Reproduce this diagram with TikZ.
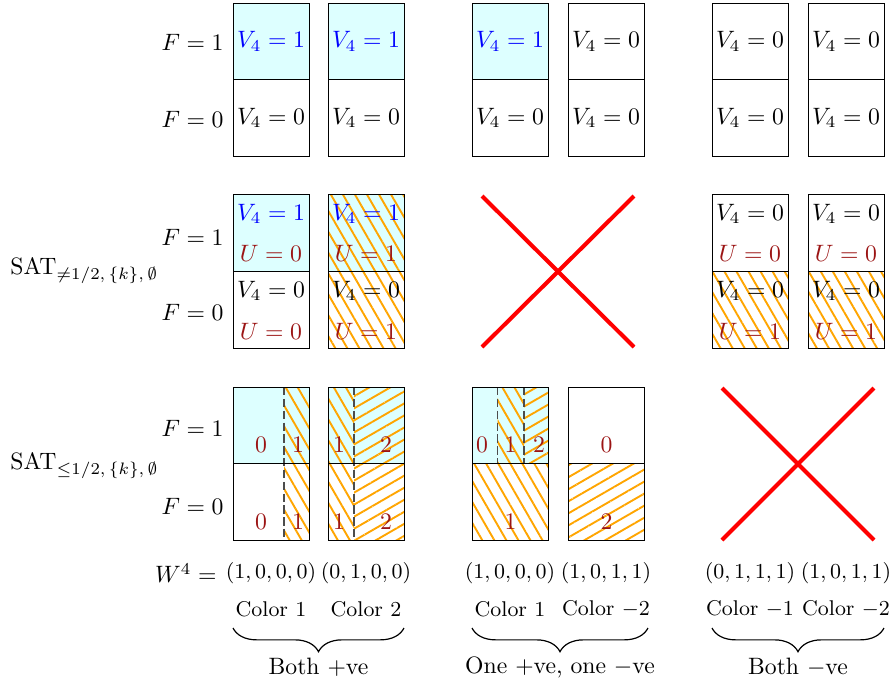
\documentclass[tikz,border=0pt]{standalone}
\usetikzlibrary{patterns.meta,decorations.pathreplacing}
\definecolor{lightcyan}{RGB}{221,255,255}
\definecolor{hatchorange}{RGB}{255,165,0}
\definecolor{darkred}{RGB}{155,20,20}
\begin{document}
\begin{tikzpicture}[x=0.422pt,y=-0.422pt,
 cell/.style={draw=black,line width=0.4pt},
 cyanbg/.style={fill=lightcyan},
 hatchsteep/.style={pattern={Lines[angle=-60,distance=4.4pt,line width=0.8pt]},pattern color=hatchorange},
 hatchflat/.style={pattern={Lines[angle=30,distance=4.4pt,line width=0.8pt]},pattern color=hatchorange},
 txt/.style={inner sep=0pt},
 smalltxt/.style={inner sep=0pt,font=\small},
 vtrue/.style={txt,text=blue},
 utxt/.style={txt,text=darkred},
 divider/.style={draw=black!70,line width=0.5pt,dash pattern=on 3.5pt off 1.5pt},
 cross/.style={draw=red,line width=1.7pt},
 bracestyle/.style={draw=black,line width=0.5pt,decorate,decoration={brace,mirror,amplitude=10pt}}]
\useasboundingbox (0,0) rectangle (893,685);

% ================= Row 1 =================
\foreach \x in {233,328,472} \fill[cyanbg] (\x,3) rectangle +(76,76.5);
\foreach \x in {233,328,472,568,712,808} {
  \draw[cell] (\x,3) rectangle +(76,153);
  \draw[cell] (\x,79.5) -- +(76,0);
}
\node[txt,anchor=east] (r1f1) at (224,42) {$F=1$};
\node[txt,anchor=east] (r1f0) at (224,119) {$F=0$};
\foreach \c [count=\i] in {271,366,510} \node[vtrue] (r1t\i) at (\c,41.5) {$V_4=1$};
\foreach \c [count=\i] in {606,750,846} \node[txt] (r1u\i) at (\c,41.5) {$V_4=0$};
\foreach \c [count=\i] in {271,366,510,606,750,846} \node[txt] (r1b\i) at (\c,118) {$V_4=0$};

% ================= Row 2 =================
\fill[cyanbg] (233,194) rectangle +(76,77);
\fill[cyanbg] (328,194) rectangle +(76,77);
\fill[hatchsteep] (328,194) rectangle +(76,154);
\foreach \x in {712,808} \fill[hatchsteep] (\x,271) rectangle +(76,77);
\foreach \x in {233,328,712,808} {
  \draw[cell] (\x,194) rectangle +(76,154);
  \draw[cell] (\x,271) -- +(76,0);
}
\node[anchor=west,inner sep=0pt] (sat1) at (10,271) {$\mathrm{SAT}_{\neq 1/2,\,\{k\},\,\emptyset}$};
\node[txt,anchor=east] (r2f1) at (224,237) {$F=1$};
\node[txt,anchor=east] (r2f0) at (224,312) {$F=0$};
% column 1
\node[vtrue] (r2a1) at (271,214) {$V_4=1$};
\node[utxt] (r2a2) at (271,253) {$U=0$};
\node[txt] (r2a3) at (271,291) {$V_4=0$};
\node[utxt] (r2a4) at (271,331) {$U=0$};
% column 2
\node[vtrue] (r2b1) at (366,214) {$V_4=1$};
\node[utxt] (r2b2) at (366,253) {$U=1$};
\node[txt] (r2b3) at (366,291) {$V_4=0$};
\node[utxt] (r2b4) at (366,331) {$U=1$};
% columns 5 and 6
\foreach \c [count=\i] in {750,846} {
  \node[txt] (r2c\i a) at (\c,214) {$V_4=0$};
  \node[utxt] (r2c\i b) at (\c,253) {$U=0$};
  \node[txt] (r2c\i c) at (\c,291) {$V_4=0$};
  \node[utxt] (r2c\i d) at (\c,331) {$U=1$};
}
% cross
\coordinate (x1a) at (482,196); \coordinate (x1b) at (634,347);
\coordinate (x1c) at (482,347); \coordinate (x1d) at (634,196);
\draw[cross] (x1a) -- (x1b);
\draw[cross] (x1c) -- (x1d);

% ================= Row 3 =================
\fill[cyanbg] (233,387) rectangle +(76,76);
\fill[cyanbg] (328,387) rectangle +(76,76);
\fill[cyanbg] (472,387) rectangle +(76,76);
\fill[hatchsteep] (284,387) rectangle (309,540);
\fill[hatchsteep] (328,387) rectangle (354,540);
\fill[hatchflat] (354,387) rectangle (404,540);
\fill[hatchsteep] (497.5,387) rectangle (524,463);
\fill[hatchflat] (524,387) rectangle (548,463);
\fill[hatchsteep] (472,463) rectangle (548,540);
\fill[hatchflat] (568,463) rectangle (644,540);
\draw[divider] (284,387) -- (284,540);
\draw[divider] (354,387) -- (354,540);
\draw[divider] (497.5,387) -- (497.5,463);
\draw[divider] (524,387) -- (524,463);
\foreach \x in {233,328,472,568} {
  \draw[cell] (\x,387) rectangle +(76,153);
  \draw[cell] (\x,463) -- +(76,0);
}
\node[anchor=west,inner sep=0pt] (sat2) at (10,466) {$\mathrm{SAT}_{\leq 1/2,\,\{k\},\,\emptyset}$};
\node[txt,anchor=east] (r3f1) at (224,428) {$F=1$};
\node[txt,anchor=east] (r3f0) at (224,506) {$F=0$};
\node[utxt] (r3a1) at (261,445) {$0$};
\node[utxt] (r3a2) at (298,445) {$1$};
\node[utxt] (r3a3) at (261,522) {$0$};
\node[utxt] (r3a4) at (298,522) {$1$};
\node[utxt] (r3b1) at (339,445) {$1$};
\node[utxt] (r3b2) at (386,445) {$2$};
\node[utxt] (r3b3) at (339,522) {$1$};
\node[utxt] (r3b4) at (386,522) {$2$};
\node[utxt] (r3c1) at (482,445) {$0$};
\node[utxt] (r3c2) at (510.5,445) {$1$};
\node[utxt] (r3c3) at (539,445) {$2$};
\node[utxt] (r3c4) at (510.5,522) {$1$};
\node[utxt] (r3d1) at (606.5,445) {$0$};
\node[utxt] (r3d2) at (606.5,522) {$2$};
\coordinate (x2a) at (722,388); \coordinate (x2b) at (874,540);
\coordinate (x2c) at (722,540); \coordinate (x2d) at (874,388);
\draw[cross] (x2a) -- (x2b);
\draw[cross] (x2c) -- (x2d);

% ================= Bottom labels =================
\node[txt,anchor=east] (w4) at (217,573) {$W^4=$};
\node[smalltxt] (w1) at (271,573) {$(1,0,0,0)$};
\node[smalltxt] (w2) at (366,573) {$(0,1,0,0)$};
\node[smalltxt] (w3) at (510,573) {$(1,0,0,0)$};
\node[smalltxt] (w4b) at (606,573) {$(1,0,1,1)$};
\node[smalltxt] (w5) at (750,573) {$(0,1,1,1)$};
\node[smalltxt] (w6) at (846,573) {$(1,0,1,1)$};
\node[smalltxt] (cl1) at (271,609) {Color 1};
\node[smalltxt] (cl2) at (366,609) {Color 2};
\node[smalltxt] (cl3) at (510,609) {Color 1};
\node[smalltxt] (cl4) at (606,609) {Color $-2$};
\node[smalltxt] (cl5) at (750,609) {Color $-1$};
\node[smalltxt] (cl6) at (846,609) {Color $-2$};

\coordinate (b1s) at (233,628); \coordinate (b1e) at (404,628);
\coordinate (b2s) at (472,628); \coordinate (b2e) at (648,628);
\coordinate (b3s) at (712,628); \coordinate (b3e) at (884,628);
\draw[bracestyle] (b1s) -- (b1e);
\draw[bracestyle] (b2s) -- (b2e);
\draw[bracestyle] (b3s) -- (b3e);
\node[txt] (g1) at (318.5,667) {Both $+$ve};
\node[txt] (g2) at (560,667) {One $+$ve, one $-$ve};
\node[txt] (g3) at (798,667) {Both $-$ve};
\end{tikzpicture}
\end{document}
